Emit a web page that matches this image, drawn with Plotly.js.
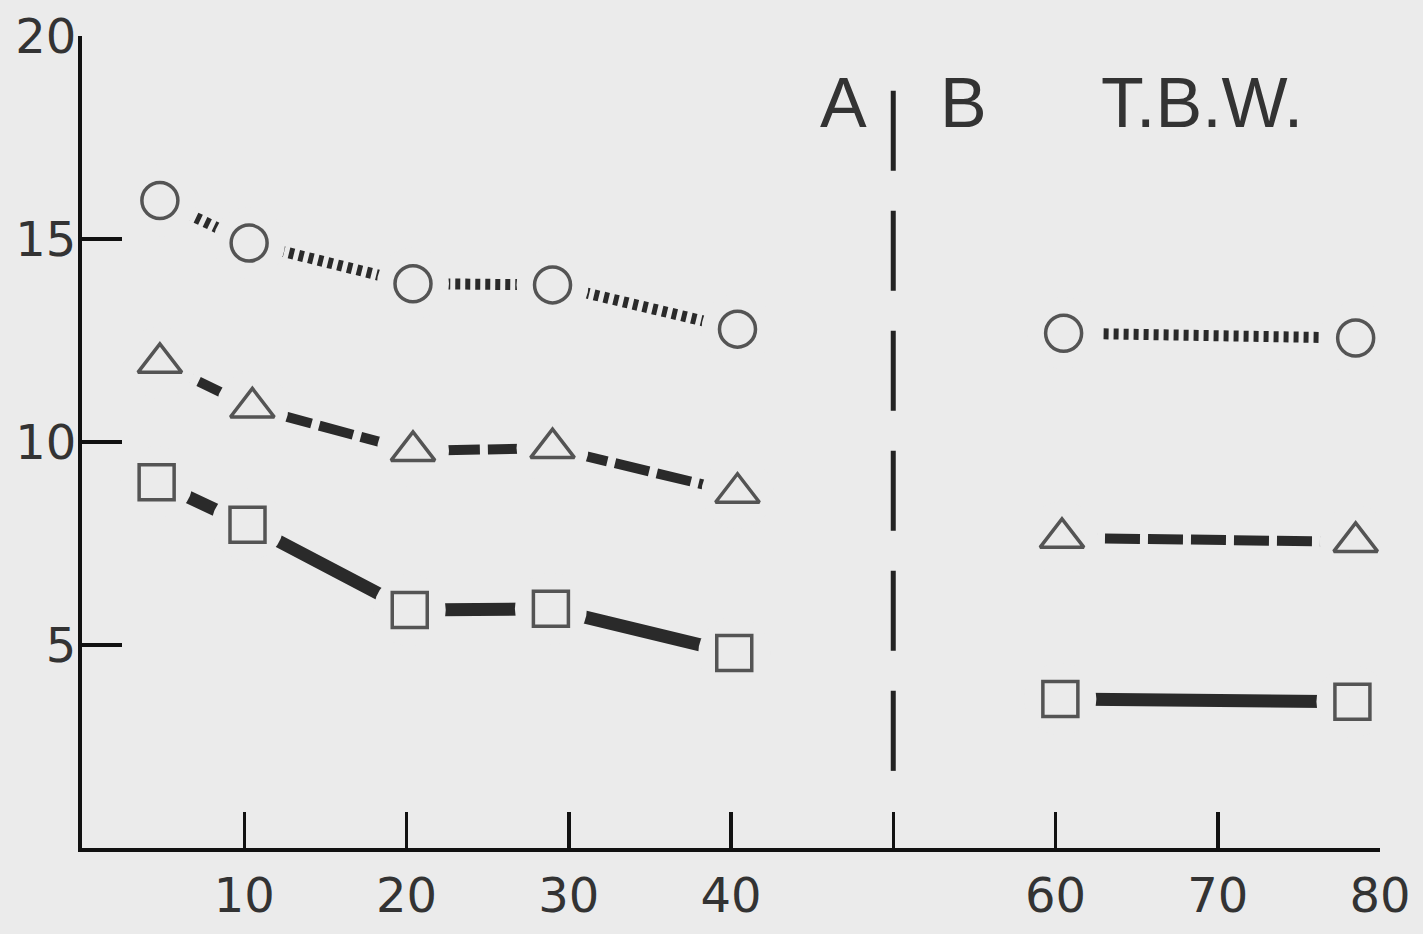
<!DOCTYPE html>
<html>
<head>
<meta charset="utf-8">
<script src="https://cdn.plot.ly/plotly-3.0.1.min.js"></script>
<style>
  html, body { margin: 0; padding: 0; background: #ebebeb; }
  #chart { width: 1423px; height: 934px; }
</style>
</head>
<body>
<div id="chart"></div>
<script>
// ---- Data ----
// Period A
const xCircleA   = [4.8, 10.3, 20.4, 29.0, 40.4];
const yCircleA   = [15.95, 14.9, 13.9, 13.87, 12.78];
const xTriangleA = [4.8, 10.5, 20.4, 29.0, 40.4];
const yTriangleA = [11.95, 10.85, 9.78, 9.85, 8.75];
const xSquareA   = [4.6, 10.2, 20.2, 28.9, 40.2];
const ySquareA   = [9.01, 7.96, 5.86, 5.89, 4.80];
// Period B (T.B.W.)
const xCircleB   = [60.5, 78.5];
const yCircleB   = [12.68, 12.56];
const xTriangleB = [60.4, 78.5];
const yTriangleB = [7.64, 7.54];
const xSquareB   = [60.3, 78.3];
const ySquareB   = [3.67, 3.60];

// Axis ticks
const xTickVals = [10, 20, 30, 40, 50, 60, 70, 80];
const xTickText = ['10', '20', '30', '40', '', '60', '70', '80'];
const yTickVals = [5, 10, 15, 20];
const yTickText = ['5', '10', '15', '20'];

// Divider between period A and B
const dividerX = 50;
const dividerY = [1.9, 18.7];

// Labels
const labels = [
  {text: 'A', x: 46.95, y: 18.35},
  {text: 'B', x: 54.3, y: 18.35},
  {text: 'T.B.W.', x: 69.0, y: 18.35}
];

// ---- Styles ----
const BG = '#ebebeb';
const LINE = '#2a2a2a';
const MARK = '#545454';
const series = [
  {xa: xCircleA, ya: yCircleA, xb: xCircleB, yb: yCircleB, symbol: 'circle', size: 36,
   line: {color: LINE, width: 11, dash: '5px,5px'}},
  {xa: xTriangleA, ya: yTriangleA, xb: xTriangleB, yb: yTriangleB, symbol: 'triangle-up', size: 38,
   line: {color: LINE, width: 10, dash: '35px,8px'}},
  {xa: xSquareA, ya: ySquareA, xb: xSquareB, yb: ySquareB, symbol: 'square', size: 35,
   line: {color: LINE, width: 13}}
];

const traces = [];
// lines
series.forEach(s => {
  traces.push({x: s.xa, y: s.ya, mode: 'lines', line: s.line, hoverinfo: 'skip', showlegend: false});
  traces.push({x: s.xb, y: s.yb, mode: 'lines', line: s.line, hoverinfo: 'skip', showlegend: false});
});
// masks (create gaps between markers and lines)
series.forEach(s => {
  traces.push({x: s.xa.concat([null], s.xb), y: s.ya.concat([null], s.yb), mode: 'markers',
    marker: {symbol: 'circle', size: 72, color: BG, line: {width: 0}}, hoverinfo: 'skip', showlegend: false});
});
// open markers
series.forEach(s => {
  traces.push({x: s.xa.concat([null], s.xb), y: s.ya.concat([null], s.yb), mode: 'markers',
    marker: {symbol: s.symbol, size: s.size, color: BG, line: {color: MARK, width: 3.5}},
    hoverinfo: 'skip', showlegend: false});
});

const tickFont = {family: 'DejaVu Sans, Liberation Sans, sans-serif', size: 48, color: '#333333'};

const layout = {
  width: 1423,
  height: 934,
  paper_bgcolor: BG,
  plot_bgcolor: BG,
  margin: {l: 82, r: 43, t: 36, b: 86, pad: 0},
  showlegend: false,
  hovermode: false,
  xaxis: {
    range: [0, 80],
    showgrid: false,
    zeroline: false,
    showline: true,
    linecolor: '#111111',
    linewidth: 4,
    ticks: 'inside',
    ticklen: 36,
    tickwidth: 3.5,
    tickcolor: '#111111',
    tickvals: xTickVals,
    ticktext: xTickText,
    tickfont: tickFont,
    ticklabelstandoff: 2
  },
  yaxis: {
    range: [0, 20],
    showgrid: false,
    zeroline: false,
    showline: true,
    linecolor: '#111111',
    linewidth: 4,
    ticks: 'inside',
    ticklen: 40,
    tickwidth: 4,
    tickcolor: '#111111',
    tickvals: yTickVals,
    ticktext: yTickText,
    tickfont: tickFont,
    ticklabelstandoff: -8
  },
  shapes: [{
    type: 'line', xref: 'x', yref: 'y',
    x0: dividerX, x1: dividerX, y0: dividerY[0], y1: dividerY[1],
    line: {color: '#222222', width: 5, dash: '80px,40px'},
    layer: 'below'
  }],
  annotations: labels.map(l => ({
    text: l.text, x: l.x, y: l.y, xref: 'x', yref: 'y', showarrow: false,
    font: {family: 'Liberation Sans, Arial, sans-serif', size: 70, color: '#333333'},
    xanchor: 'center', yanchor: 'middle'
  }))
};

Plotly.newPlot('chart', traces, layout, {displayModeBar: false, staticPlot: true});
</script>
</body>
</html>
